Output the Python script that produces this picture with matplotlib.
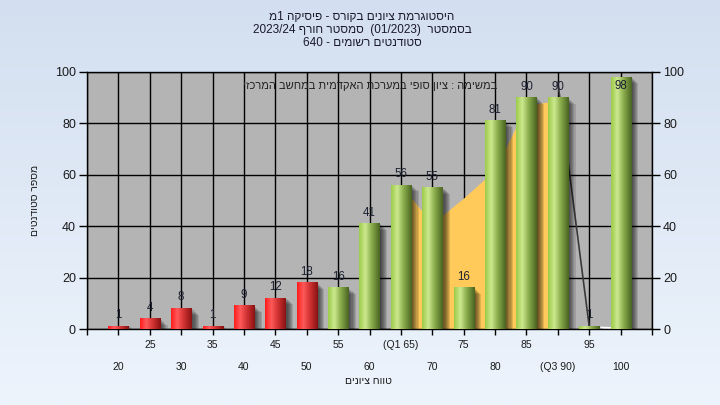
import re
import numpy as np
import matplotlib
matplotlib.use('Agg')
import matplotlib.pyplot as plt
from matplotlib.colors import LinearSegmentedColormap
from matplotlib.patches import Rectangle

plt.rcParams['font.family'] = ['Liberation Sans', 'DejaVu Sans']

# ---------------- data ----------------
categories = [20, 25, 30, 35, 40, 45, 50, 55, 60, 65, 70, 75, 80, 85, 90, 95, 100]
values = [1, 4, 8, 1, 9, 12, 18, 16, 41, 56, 55, 16, 81, 90, 90, 1, 98]
tick_labels = ['20', '25', '30', '35', '40', '45', '50', '55', '60', '(Q1 65)',
               '70', '75', '80', '85', '(Q3 90)', '95', '100']
iqr_x = [65, 70, 75, 80, 85, 90]
iqr_y = [56, 41, 51, 62, 87, 89]
line_x = [90, 95]
line_y = [96, 1]
tail_x = [95, 100]
tail_y = [0.6, 0.3]
pass_mark = 55

title_lines = ['היסטוגרמת ציונים בקורס - פיסיקה 1מ',
               'בסמסטר  (01/2023)  סמסטר חורף 2023/24',
               'סטודנטים רשומים - 640']
note_text = 'במשימה : ציון סופי במערכת האקדמית במחשב המרכזי'
xlabel_text = 'טווח ציונים'
ylabel_text = 'מספר סטודנטים'


def vis(s):
    """Simple visual reordering for an RTL (Hebrew) line."""
    toks = re.findall(r'[0-9A-Za-z/.]+|.', s)[::-1]
    mirror = {'(': ')', ')': '('}
    return ''.join(mirror.get(t, t) for t in toks)


def pos_of(c):
    return categories.index(c) + 1


W, H = 720, 405
fig = plt.figure(figsize=(7.2, 4.05), dpi=100)

# background gradient
bg = fig.add_axes([0, 0, 1, 1], zorder=-10)
bg_cmap = LinearSegmentedColormap.from_list('bg', ['#edf4fc', '#d3dff0'])
bg.imshow(np.linspace(0, 1, 256)[:, None][::-1], aspect='auto', cmap=bg_cmap,
          extent=[0, 1, 0, 1])
bg.set_axis_off()

ax = fig.add_axes([87 / W, 1 - 329 / H, 565 / W, 257 / H])
ax.set_facecolor('#b4b4b4')

green = LinearSegmentedColormap.from_list(
    'g', [(0, '#9ccb48'), (0.3, '#cde88f'), (0.6, '#8cae4c'), (1.0, '#4a6422')])
red = LinearSegmentedColormap.from_list(
    'r', [(0, '#ff1c1c'), (0.3, '#ff5a5a'), (0.6, '#d43434'), (1.0, '#8a1212')])

# IQR area
ax.fill_between([pos_of(c) for c in iqr_x], 0, iqr_y, color='#ffca5a',
                zorder=1.5, lw=0)
ax.plot([pos_of(c) for c in line_x], line_y, color='#3a3a3a', lw=1.2, zorder=1.6)
ax.plot([pos_of(c) for c in tail_x], tail_y, color='white', lw=1.5, zorder=1.6)

bw = 0.64
grad = np.linspace(0, 1, 64)[None, :]
for i, (c, v) in enumerate(zip(categories, values)):
    p = i + 1
    x0 = p - bw / 2
    # shadow
    for k in range(7):
        ax.add_patch(Rectangle((x0 + 0.035 * (k + 1), -0.4 * k), bw, v,
                               color='black', alpha=0.12, lw=0, zorder=2))
    cm = green if c >= pass_mark else red
    ax.imshow(grad, extent=(x0, x0 + bw, 0, v), aspect='auto', cmap=cm,
              zorder=3, interpolation='bilinear')
    ax.text(p, min(v + 4.3, 94.5), str(v), ha='center', va='center',
            fontsize=8.3, color='#1c2030', zorder=4)

ax.set_xlim(0, 18)
ax.set_ylim(0, 100)
ax.set_xticks(range(0, 19))
ax.set_yticks(range(0, 101, 20))
ax.set_axisbelow(True)
ax.grid(True, color='black', lw=1)
ax.tick_params(axis='x', direction='out', length=4, width=1, labelbottom=False)
ax.tick_params(axis='y', direction='out', length=6, width=1, labelsize=9,
               left=True, right=True, labelleft=True, labelright=True,
               labelcolor='#1a1a1a', pad=2)
for s in ax.spines.values():
    s.set_color('black')
    s.set_linewidth(1)

for i, lab in enumerate(tick_labels):
    off = -16 if i % 2 == 1 else -38
    ax.annotate(lab, xy=(i + 1, 0), xycoords=('data', 'axes fraction'),
                xytext=(0, off * 0.72), textcoords='offset points',
                ha='center', va='center', fontsize=7.5, color='#1a1a1a',
                annotation_clip=False)

ax.text((370 - 87) / 565 * 18, 94.5, vis(note_text), ha='center',
        va='center', fontsize=8, color='#222222', zorder=5)

for j, (t, yy) in enumerate(zip(title_lines, [17, 30, 43])):
    fig.text(362 / W, 1 - yy / H, vis(t), ha='center', va='center',
             fontsize=8.5, color='#1a1a2a')

fig.text(368 / W, 1 - 381 / H, vis(xlabel_text), ha='center', va='center',
         fontsize=7.5, color='#1a1a1a')
fig.text(35 / W, 1 - 200 / H, vis(ylabel_text), ha='center', va='center',
         rotation=90, fontsize=7.5, color='#1a1a1a')

fig.savefig('out.png', dpi=100)
